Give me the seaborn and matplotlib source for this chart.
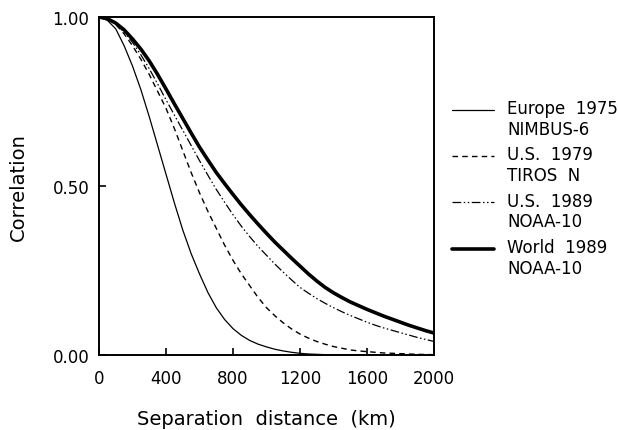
import pandas as pd
import matplotlib
matplotlib.use("Agg")
import matplotlib.pyplot as plt
import seaborn as sns

# separation distance (km) and correlation
distance = list(range(0, 2001, 50))

europe_1975 = [1.00, 0.99, 0.965, 0.915, 0.855, 0.785, 0.705, 0.62, 0.535, 0.45,
               0.37, 0.30, 0.24, 0.185, 0.14, 0.105, 0.078, 0.058, 0.043, 0.032,
               0.024, 0.017, 0.012, 0.008, 0.005, 0.003, 0.002, 0.001, 0.0, 0.0,
               0.0, 0.0, 0.0, 0.0, 0.0, 0.0, 0.0, 0.0, 0.0, 0.0, 0.0]
us_1979 = [1.00, 0.995, 0.978, 0.95, 0.915, 0.875, 0.83, 0.78, 0.73, 0.67,
           0.605, 0.54, 0.48, 0.425, 0.375, 0.325, 0.28, 0.24, 0.205, 0.17,
           0.14, 0.116, 0.095, 0.077, 0.062, 0.05, 0.04, 0.032, 0.025, 0.02,
           0.015, 0.012, 0.01, 0.008, 0.006, 0.005, 0.004, 0.003, 0.002, 0.0015, 0.001]
us_1989 = [1.00, 0.995, 0.98, 0.955, 0.925, 0.888, 0.847, 0.802, 0.755, 0.71,
           0.665, 0.62, 0.575, 0.532, 0.49, 0.452, 0.415, 0.381, 0.35, 0.321,
           0.295, 0.269, 0.245, 0.222, 0.20, 0.183, 0.167, 0.153, 0.14, 0.128,
           0.117, 0.107, 0.097, 0.088, 0.08, 0.073, 0.066, 0.059, 0.052, 0.046, 0.04]
world_1989 = [1.00, 0.995, 0.982, 0.962, 0.935, 0.905, 0.87, 0.83, 0.787, 0.743,
              0.70, 0.657, 0.615, 0.577, 0.54, 0.507, 0.475, 0.444, 0.415, 0.387,
              0.36, 0.334, 0.31, 0.286, 0.263, 0.24, 0.219, 0.20, 0.184, 0.17,
              0.157, 0.146, 0.135, 0.125, 0.115, 0.106, 0.097, 0.088, 0.08, 0.072, 0.065]

labels = ["Europe  1975\nNIMBUS-6", "U.S.  1979\nTIROS  N",
          "U.S.  1989\nNOAA-10", "World  1989\nNOAA-10"]
series = [europe_1975, us_1979, us_1989, world_1989]
styles = [("-", 0.9), ((0, (4, 3)), 1.0), ((0, (7, 2, 1.2, 2, 1.2, 2)), 0.9), ("-", 2.6)]

x_ticks = [0, 400, 800, 1200, 1600, 2000]
y_ticks = [0.0, 0.5, 1.0]

sns.set_style("ticks")
plt.rcParams["font.family"] = ["DejaVu Sans"]
plt.rcParams["text.color"] = "black"
plt.rcParams["axes.labelcolor"] = "black"
plt.rcParams["xtick.color"] = "black"
plt.rcParams["ytick.color"] = "black"

fig = plt.figure(figsize=(6.18, 4.31), dpi=100)
ax = fig.add_axes([99 / 618, 1 - 356 / 431, 335 / 618, 338 / 431])

for label, vals, (ls, lw) in zip(labels, series, styles):
    df = pd.DataFrame({"distance": distance, "corr": vals})
    sns.lineplot(data=df, x="distance", y="corr", ax=ax, color="black",
                 linestyle=ls, linewidth=lw, label=label)

ax.set_xlim(0, 2000)
ax.set_ylim(0, 1)
ax.set_xticks(x_ticks)
ax.set_yticks(y_ticks)
ax.set_yticklabels(["%.2f" % v for v in y_ticks])
ax.tick_params(direction="in", length=5, width=1.2, labelsize=12, color="black")
ax.tick_params(axis="x", pad=10)
ax.tick_params(axis="y", pad=7)
for sp in ax.spines.values():
    sp.set_linewidth(1.4)
    sp.set_color("black")

ax.set_xlabel("Separation  distance  (km)", fontsize=14, labelpad=16)
ax.set_ylabel("Correlation", fontsize=14, labelpad=18)

leg = ax.legend(loc="upper left", bbox_to_anchor=(452 / 618, 1 - 100 / 431),
                bbox_transform=fig.transFigure, frameon=False, fontsize=12,
                handlelength=2.5, handletextpad=0.8, labelspacing=0.45,
                borderpad=0, borderaxespad=0)
for line in leg.get_lines():
    yd = line.get_ydata()
    line.set_ydata([v + 7 for v in yd])

fig.savefig("out.png", dpi=100)
